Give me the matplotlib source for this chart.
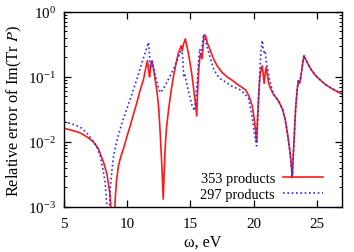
import matplotlib
matplotlib.use("Agg")
from matplotlib import pyplot as plt
import numpy as np

# Erreur relative (log10).
omega_353 = [5.0, 5.6, 6.27, 6.8, 7.33, 7.7, 8.12, 8.4, 8.65, 8.8, 8.88, 8.95, 9.05, 9.15, 9.31,
             9.5, 9.71, 10.0, 10.24, 10.5, 10.77, 11.0, 11.3, 11.5, 11.6, 11.7, 11.77, 11.85, 11.96,
             12.1, 12.36, 12.5, 12.62, 12.75, 12.85, 12.93, 13.0, 13.1, 13.28, 13.5, 13.67, 13.9,
             14.07, 14.2, 14.29, 14.36, 14.45, 14.6, 14.75, 14.87, 15.0, 15.13, 15.3, 15.4, 15.5,
             15.58, 15.66, 15.75, 15.8, 15.93, 16.06, 16.19, 16.35, 16.59, 16.85, 17.12, 17.5,
             17.91, 18.3, 18.7, 19.0, 19.37, 19.6, 19.76, 19.9, 20.02, 20.15, 20.24, 20.3, 20.4,
             20.5, 20.6, 20.69, 20.76, 20.84, 20.92, 21.0, 21.1, 21.2, 21.35, 21.55, 21.75, 22.0,
             22.28, 22.5, 22.67, 22.85, 22.94, 23.03, 23.07, 23.12, 23.2, 23.33, 23.45, 23.55,
             23.62, 23.7, 23.8, 23.9, 23.99, 24.1, 24.39, 24.6, 24.92, 25.3, 25.71, 26.2, 26.77, 27.0]
log_err_353 = [-1.79, -1.82, -1.86, -1.92, -2.0, -2.1, -2.31, -2.5, -2.83, -3.3, -4.0, -3.3, -2.88,
               -2.6, -2.36, -2.22, -2.1, -1.9, -1.75, -1.57, -1.39, -1.22, -1.03, -0.83, -0.75,
               -0.92, -1.0, -0.85, -0.76, -0.9, -1.23, -1.5, -1.9, -2.4, -2.88, -2.45, -2.1, -1.8,
               -1.49, -1.18, -0.98, -0.76, -0.62, -0.56, -0.52, -0.6, -0.5, -0.415, -0.55, -0.67,
               -0.82, -0.98, -1.25, -1.39, -1.6, -1.2, -0.9, -0.7, -0.65, -0.72, -0.39, -0.36,
               -0.48, -0.6, -0.73, -0.83, -0.93, -1.0, -1.05, -1.11, -1.15, -1.2, -1.28, -1.36,
               -1.45, -1.6, -1.8, -2.0, -1.7, -1.3, -1.0, -0.88, -0.83, -0.95, -1.1, -0.95, -0.85,
               -0.97, -1.1, -1.18, -1.26, -1.31, -1.38, -1.49, -1.65, -1.85, -2.1, -2.26, -2.45,
               -2.55, -2.3, -2.0, -1.49, -1.2, -1.06, -1.1, -1.05, -0.92, -0.78, -0.67, -0.72,
               -0.83, -0.9, -0.98, -1.05, -1.12, -1.18, -1.24, -1.26]

omega_297 = [5.0, 5.6, 6.27, 6.8, 7.33, 7.6, 7.86, 8.1, 8.25, 8.39, 8.5, 8.58, 8.65, 8.78, 8.92,
             9.2, 9.44, 9.7, 9.97, 10.4, 10.77, 11.1, 11.43, 11.58, 11.69, 11.76, 11.83, 11.9,
             11.96, 12.05, 12.2, 12.36, 12.5, 12.62, 12.8, 13.15, 13.4, 13.67, 13.95, 14.2, 14.34,
             14.42, 14.47, 14.55, 14.65, 14.87, 15.13, 15.32, 15.45, 15.53, 15.65, 15.74, 15.82,
             15.9, 15.98, 16.06, 16.2, 16.45, 16.65, 16.85, 17.1, 17.38, 17.8, 18.17, 18.6, 18.97,
             19.3, 19.63, 19.76, 19.9, 20.02, 20.15, 20.24, 20.33, 20.42, 20.5, 20.58, 20.69,
             20.76, 20.84, 20.92, 21.0, 21.22, 21.4, 21.62, 21.8, 22.0, 22.28, 22.5, 22.67, 22.85,
             22.94, 23.03, 23.07, 23.12, 23.2, 23.33, 23.45, 23.55, 23.62, 23.7, 23.8, 23.9,
             23.99, 24.1, 24.39, 24.6, 24.92, 25.3, 25.71, 26.2, 26.77, 27.0]
log_err_297 = [-1.69, -1.72, -1.77, -1.86, -2.0, -2.08, -2.21, -2.45, -2.62, -3.0, -4.0, -3.1,
               -2.72, -2.45, -2.21, -1.97, -1.8, -1.64, -1.49, -1.25, -1.03, -0.82, -0.62, -0.53,
               -0.47, -0.65, -0.87, -0.78, -0.74, -0.82, -0.97, -1.08, -1.18, -1.24, -1.2, -1.08,
               -0.98, -0.88, -0.75, -0.62, -0.6, -0.78, -0.98, -0.95, -1.05, -1.24, -1.44, -1.52,
               -1.3, -1.1, -0.75, -0.57, -0.65, -0.6, -0.42, -0.34, -0.45, -0.62, -0.76, -0.88,
               -0.97, -1.03, -1.08, -1.13, -1.17, -1.2, -1.26, -1.34, -1.49, -1.62, -1.8, -1.95,
               -2.06, -1.7, -1.25, -0.9, -0.62, -0.44, -0.56, -0.62, -0.6, -0.75, -1.0, -1.15,
               -1.28, -1.32, -1.38, -1.49, -1.65, -1.85, -2.1, -2.26, -2.45, -2.55, -2.3, -2.0,
               -1.49, -1.2, -1.06, -1.1, -1.05, -0.92, -0.78, -0.67, -0.72, -0.83, -0.9, -0.98,
               -1.05, -1.12, -1.18, -1.24, -1.26]

labels = ['353 products', '297 products']

plt.rcParams['font.family'] = ['Liberation Serif', 'DejaVu Serif']
plt.rcParams['mathtext.fontset'] = 'stix'

fig = plt.figure(figsize=(3.54, 2.53), dpi=100)
ax = fig.add_axes([0.181, 0.178, 0.785, 0.771])

ax.plot(omega_353, 10 ** np.array(log_err_353), color='#ff1a1a', lw=1.2, label=labels[0])
ax.plot(omega_297, 10 ** np.array(log_err_297), color='#2a2aff', lw=1.2,
        linestyle=(0, (1, 1.6)), label=labels[1])

ax.set_yscale('log')
ax.set_xlim(5, 27)
ax.set_ylim(1e-3, 1)
ax.set_xticks([5, 10, 15, 20, 25])

ax.tick_params(which='both', direction='in', top=True, right=True, labelsize=10.8)
ax.tick_params(axis='x', pad=7.5)
ax.tick_params(axis='y', pad=6)
ax.tick_params(which='major', length=5, width=0.9)
ax.tick_params(which='minor', length=2.5, width=0.7)
for spine in ax.spines.values():
    spine.set_linewidth(1.0)

ax.set_xlabel('ω, eV', fontsize=11.6, labelpad=2)
ax.set_ylabel('Relative error of Im(Tr $P$)', fontsize=11.8, labelpad=3)

ax.legend(loc='lower right', bbox_to_anchor=(0.98, -0.035), frameon=False, markerfirst=False,
          handlelength=2.8, fontsize=10.4, labelspacing=0.2, handletextpad=0.55)

plt.savefig('out.png', dpi=100)
